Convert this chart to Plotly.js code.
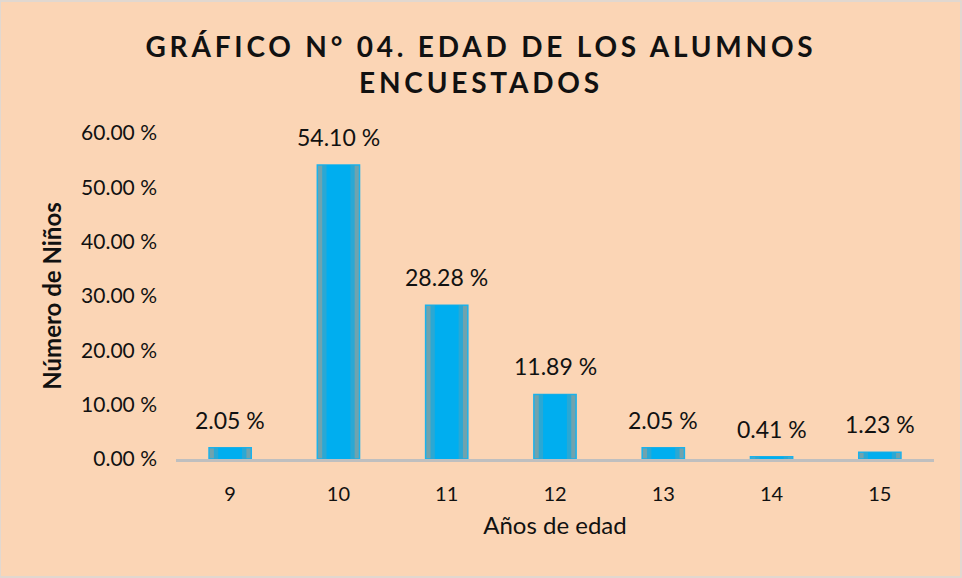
<!DOCTYPE html>
<html><head><meta charset="utf-8">
<script src="https://cdn.plot.ly/plotly-3.0.1.min.js"></script>
<style>
html,body{margin:0;padding:0;background:#FBD5B5;}
#chart{width:962px;height:578px;box-sizing:border-box;}
.gtitle{letter-spacing:3.8px;}
</style></head><body>
<div id="chart"></div>
<script>
const categories = ['9','10','11','12','13','14','15'];
const values = [2.05, 54.10, 28.28, 11.89, 2.05, 0.41, 1.23];
const tickValues = [0, 10, 20, 30, 40, 50, 60];
const tickLabels = ['0.00 %','10.00 %','20.00 %','30.00 %','40.00 %','50.00 %','60.00 %'];

const font = 'Lato, "Open Sans", sans-serif';

const traces = [
  {type:'bar', x:categories, y:values, width:0.39,
   marker:{color:'#6FA3AE', line:{color:'#1AB2EC', width:1.5}},
   hoverinfo:'none'},
  {type:'bar', x:categories, y:values, width:0.30,
   marker:{color:'#2AA8D4', line:{width:0}},
   hoverinfo:'none'},
  {type:'bar', x:categories, y:values, width:0.22,
   marker:{color:'#00AEEF', line:{width:0}},
   hoverinfo:'none'}
];

const annotations = categories.map((c,i)=>({
  x:i, y:values[i], xref:'x', yref:'y', yanchor:'bottom', yshift:12,
  text: values[i].toFixed(2)+' %', showarrow:false,
  font:{family:font, size:23, color:'#111'}
}));

const layout = {
  width:962, height:578,
  paper_bgcolor:'#FBD5B5', plot_bgcolor:'#FBD5B5',
  margin:{l:176, r:28, t:133, b:119},
  barmode:'overlay', showlegend:false,
  title:{text:'<b>GRÁFICO N° 04. EDAD DE LOS ALUMNOS<br>ENCUESTADOS</b>',
    font:{family:font, size:28, color:'#111'}, x:0.5, xanchor:'center',
    yref:'container', y:1-57/578, yanchor:'middle'},
  xaxis:{type:'category', range:[-0.5,6.5], showgrid:false, showline:true, linecolor:'#BFBFBF', linewidth:2.5,
    ticks:'', tickfont:{family:font, size:20, color:'#111'}, ticklabelstandoff:15,
    title:{text:'Años de edad', font:{family:font, size:24, color:'#111'}, standoff:14}},
  yaxis:{range:[0,60], showgrid:false, zeroline:false, showline:false, ticks:'',
    tickvals:tickValues, ticktext:tickLabels,
    tickfont:{family:font, size:21, color:'#111'}, ticklabelstandoff:18,
    title:{text:'<b>Número de Niños</b>', font:{family:font, size:24, color:'#111'}, standoff:12}},
  annotations:annotations,
  shapes:[{type:'rect', xref:'paper', yref:'paper', x0:-176/758, x1:1+27/758, y0:-118/326, y1:1+132/326,
    line:{color:'#D9D9D9', width:1.5}, fillcolor:'rgba(0,0,0,0)'}]
};

Plotly.newPlot('chart', traces, layout, {displayModeBar:false, staticPlot:true});
</script></body></html>
